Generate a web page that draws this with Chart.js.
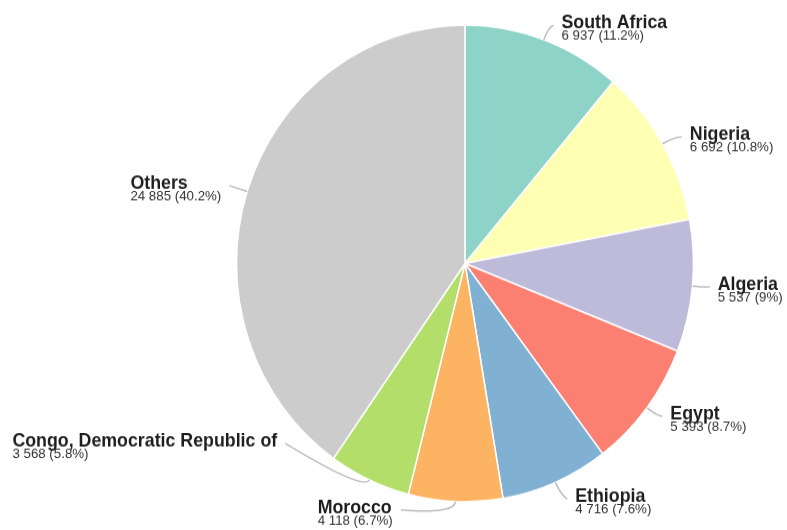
<!DOCTYPE html>
<html>
<head>
<meta charset="utf-8">
<script src="https://cdn.jsdelivr.net/npm/chart.js@4"></script>
<style>
  html, body { margin: 0; padding: 0; background: #fff; }
  body { width: 787px; height: 530px; overflow: hidden; }
  #wrap { width: 787px; height: 508px; transform: scaleY(1.0433); transform-origin: 0 0; }
</style>
</head>
<body>
<div id="wrap"><canvas id="c"></canvas></div>
<script>
// Countries and their values
const countries = ['South Africa', 'Nigeria', 'Algeria', 'Egypt', 'Ethiopia', 'Morocco', 'Congo, Democratic Republic of', 'Others'];
const values = [6937, 6692, 5537, 5393, 4716, 4118, 3568, 24885];
const sliceColors = ['#8dd3c7', '#ffffb3', '#bebada', '#fb8072', '#80b1d3', '#fdb462', '#b3de69', '#cccccc'];

// Label layout: angular nudge (degrees) from each slice's middle and radial nudge (px), to keep labels apart
const labelAngleShift = [3, 2.4, 0.3, -1.2, -2.4, 14.4, 22.2, -1.2];
const labelRadialShift = [-9, 0, 0, 0, 0, -4, 3, 0];

const total = values.reduce((a, b) => a + b, 0);
const fmtNum = v => String(v).replace(/\B(?=(\d{3})+(?!\d))/g, ' ');
const fmtPct = v => {
  const p = (v / total * 100).toFixed(1);
  return (p.endsWith('.0') ? p.slice(0, -2) : p) + '%';
};

const nameFont = 'bold 17.8px "Liberation Sans", Arial, sans-serif';
const valueFont = '13.3px "Liberation Sans", Arial, sans-serif';

// Outside labels with curved leader lines
const pieLabels = {
  id: 'pieLabels',
  afterDatasetsDraw(chart, args, opts) {
    const ctx = chart.ctx;
    const meta = chart.getDatasetMeta(0);
    meta.data.forEach((arc, i) => {
      const p = arc.getProps(['x', 'y', 'startAngle', 'endAngle', 'outerRadius'], true);
      const mid = (p.startAngle + p.endAngle) / 2;
      const la = mid + opts.angleShift[i] * Math.PI / 180;
      const lr = p.outerRadius + opts.distance + opts.radialShift[i];
      const ax = p.x + Math.cos(la) * lr;
      const ay = p.y + Math.sin(la) * lr;
      const right = Math.cos(la) >= 0;

      const name = countries[i];
      const val = fmtNum(values[i]) + ' (' + fmtPct(values[i]) + ')';
      ctx.save();
      ctx.font = nameFont;
      const nw = ctx.measureText(name).width;
      ctx.font = valueFont;
      const vw = ctx.measureText(val).width;
      const bw = Math.max(nw, vw);
      const tx = right ? ax : ax - bw;

      // leader line
      const sx = p.x + Math.cos(mid) * p.outerRadius;
      const sy = p.y + Math.sin(mid) * p.outerRadius;
      const cx = p.x + Math.cos(mid) * (p.outerRadius + 12);
      const cy = p.y + Math.sin(mid) * (p.outerRadius + 12);
      const ex = right ? ax - 8 : ax + 8;
      const ey = ay - 3;
      ctx.strokeStyle = '#bdbdbd';
      ctx.lineWidth = 1.5;
      ctx.beginPath();
      ctx.moveTo(sx, sy);
      ctx.quadraticCurveTo(cx, cy, ex, ey);
      ctx.stroke();

      // text
      ctx.textAlign = 'left';
      ctx.textBaseline = 'alphabetic';
      ctx.fillStyle = '#1e1e1e';
      ctx.font = nameFont;
      ctx.fillText(name, tx, ay);
      ctx.fillStyle = '#333333';
      ctx.font = valueFont;
      ctx.fillText(val, tx, ay + 11);
      ctx.restore();
    });
  }
};

new Chart(document.getElementById('c'), {
  type: 'pie',
  data: {
    labels: countries,
    datasets: [{
      data: values,
      backgroundColor: sliceColors,
      borderColor: '#ffffff',
      borderWidth: 1.5,
      radius: 228.5
    }]
  },
  options: {
    responsive: true,
    maintainAspectRatio: false,
    animation: false,
    layout: { padding: { left: 236, right: 93, top: 24, bottom: 27 } },
    plugins: {
      legend: { display: false },
      tooltip: { enabled: false },
      pieLabels: { angleShift: labelAngleShift, radialShift: labelRadialShift, distance: 25.5 }
    }
  },
  plugins: [pieLabels]
});
</script>
</body>
</html>
